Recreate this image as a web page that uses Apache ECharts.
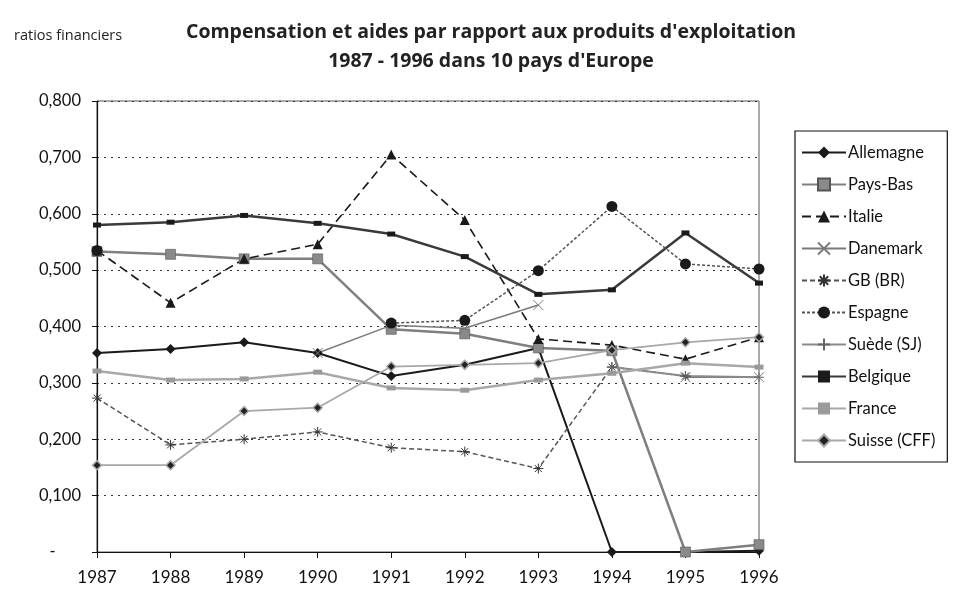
<!DOCTYPE html>
<html>
<head>
<meta charset="utf-8">
<script src="https://cdn.jsdelivr.net/npm/echarts@6/dist/echarts.min.js"></script>
<style>
  html, body { margin: 0; padding: 0; background: #fff; }
  #chart { width: 953px; height: 589px; }
</style>
</head>
<body>
<div id="chart"></div>
<script>
// years on the category axis
const years = ['1987', '1988', '1989', '1990', '1991', '1992', '1993', '1994', '1995', '1996'];

// ratios (null = no value)
const allemagne = [0.353, 0.360, 0.372, 0.353, 0.312, 0.332, 0.362, 0.000, 0.000, 0.002];
const paysBas   = [0.533, 0.528, 0.520, 0.520, 0.395, 0.387, 0.362, 0.357, 0.000, 0.013];
const italie    = [0.535, 0.442, 0.520, 0.546, 0.705, 0.589, 0.378, 0.367, 0.342, 0.381];
const danemark  = [null, null, null, 0.353, 0.402, 0.397, 0.438, null, 0.310, 0.310];
const gb        = [0.273, 0.190, 0.200, 0.213, 0.185, 0.178, 0.148, 0.328, 0.312, null];
const espagne   = [0.535, null, null, null, 0.406, 0.411, 0.499, 0.613, 0.511, 0.502];
const suede     = [null, null, null, null, null, null, null, 0.328, 0.312, 0.310];
const belgique  = [0.580, 0.585, 0.597, 0.583, 0.564, 0.524, 0.457, 0.465, 0.566, 0.477];
const france    = [0.321, 0.305, 0.307, 0.319, 0.291, 0.287, 0.305, 0.317, 0.335, 0.328];
const suisse    = [0.154, 0.154, 0.250, 0.256, 0.329, 0.332, 0.335, 0.358, 0.372, 0.381];

const yTicks = [0, 0.1, 0.2, 0.3, 0.4, 0.5, 0.6, 0.7, 0.8];

const FONT = 'Lato';
const X_PATH = 'path://M0,0L10,10M10,0L0,10';
const STAR_PATH = 'path://M5,0L5,10M0,5L10,5M1.5,1.5L8.5,8.5M8.5,1.5L1.5,8.5';
const PLUS_PATH = 'path://M5,0L5,10M0,5L10,5';

function line(name, data, opt) {
    return {
        name: name,
        type: 'line',
        data: data,
        connectNulls: false,
        symbol: opt.symbol,
        symbolSize: opt.size,
        showAllSymbol: true,
        lineStyle: { color: opt.color, width: opt.width, type: opt.dash || 'solid' },
        itemStyle: opt.item || { color: opt.mark || opt.color },
        z: opt.z || 2
    };
}

const series = [
    line('Allemagne', allemagne, { color: '#1a1a1a', width: 2, symbol: 'diamond', size: 10 }),
    line('Pays-Bas', paysBas, { color: '#7f7f7f', width: 2.5, symbol: 'rect', size: 10,
        item: { color: '#8a8a8a', borderColor: '#555', borderWidth: 0.6 } }),
    line('Italie', italie, { color: '#1a1a1a', width: 1.6, dash: [9, 5], symbol: 'triangle', size: 10 }),
    line('Danemark', danemark, { color: '#7a7a7a', width: 1.5, symbol: X_PATH, size: 10,
        item: { color: 'none', borderColor: '#7a7a7a', borderWidth: 1 } }),
    line('GB (BR)', gb, { color: '#555', width: 1.5, dash: [5, 3], symbol: STAR_PATH, size: 10,
        item: { color: 'none', borderColor: '#333', borderWidth: 1 } }),
    line('Espagne', espagne, { color: '#555', width: 1.5, dash: [3, 2], symbol: 'circle', size: 11,
        item: { color: '#1a1a1a' }, z: 3 }),
    line('Suède (SJ)', suede, { color: '#8a8a8a', width: 2, symbol: PLUS_PATH, size: 10,
        item: { color: 'none', borderColor: '#666', borderWidth: 1 } }),
    line('Belgique', belgique, { color: '#3a3a3a', width: 2.5, symbol: 'rect', size: [8, 5],
        item: { color: '#1a1a1a' } }),
    line('France', france, { color: '#a8a8a8', width: 2.5, symbol: 'rect', size: [9, 5],
        item: { color: '#9a9a9a' } }),
    line('Suisse (CFF)', suisse, { color: '#a8a8a8', width: 1.8, symbol: 'diamond', size: 9,
        item: { color: '#222', borderColor: '#aaa', borderWidth: 1.5 } })
];

const chart = echarts.init(document.getElementById('chart'));
chart.setOption({
    animation: false,
    backgroundColor: '#fff',
    textStyle: { fontFamily: FONT },
    title: [
        {
            text: 'ratios financiers',
            left: 9, top: 23,
            textStyle: { fontFamily: 'Open Sans', fontSize: 14.5, fontWeight: 'normal', color: '#222' }
        },
        {
            text: "Compensation et aides par rapport aux produits d'exploitation\n1987 - 1996 dans 10 pays d'Europe",
            left: 486, top: 13, textAlign: 'center',
            textStyle: { fontFamily: 'Open Sans', fontSize: 19.5, fontWeight: 'bold', color: '#222', lineHeight: 29 }
        }
    ],
    legend: {
        orient: 'vertical',
        left: 795, top: 131,
        padding: [13, 12, 13, 6],
        itemGap: 15,
        itemWidth: 44,
        itemHeight: 15,
        borderColor: '#111',
        borderWidth: 1.2,
        textStyle: { fontFamily: FONT, fontSize: 16.5, color: '#111', padding: [0, 0, 0, -3] },
        data: series.map(s => s.name)
    },
    grid: {
        left: 97, top: 101, width: 662, height: 451,
        show: true, borderColor: '#555', borderWidth: 1
    },
    xAxis: {
        type: 'category',
        data: years,
        boundaryGap: false,
        axisLine: { lineStyle: { color: '#111', width: 1.2 } },
        axisTick: { show: true, length: 6, lineStyle: { color: '#111' } },
        axisLabel: { fontFamily: FONT, fontSize: 17, color: '#111', margin: 17 }
    },
    yAxis: {
        type: 'value',
        min: 0, max: 0.8, interval: 0.1,
        axisLine: { show: true, lineStyle: { color: '#111', width: 1.2 } },
        axisTick: { show: true, length: 5, lineStyle: { color: '#111' } },
        axisLabel: {
            fontFamily: FONT, fontSize: 16.5, color: '#111', margin: 16,
            formatter: v => {
                const t = yTicks.find(k => Math.abs(k - v) < 1e-9);
                if (t === 0) return '-      ';
                return v.toFixed(3).replace('.', ',');
            }
        },
        splitLine: { show: true, lineStyle: { color: '#333', type: [2, 5], width: 1 } }
    },
    series: series
});
</script>
</body>
</html>
